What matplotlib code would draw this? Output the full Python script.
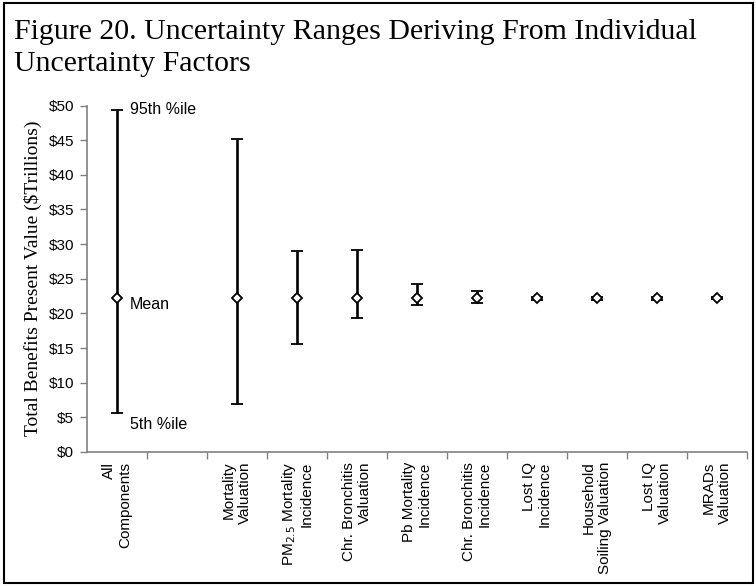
import matplotlib
matplotlib.use("Agg")
import matplotlib.pyplot as plt
from matplotlib.patches import Rectangle
import numpy as np

# data ($ trillions)
categories = [
    "All\nComponents",
    "",
    "Mortality\nValuation",
    "PM$_{2.5}$ Mortality\nIncidence",
    "Chr. Bronchitis\nValuation",
    "Pb Mortality\nIncidence",
    "Chr. Bronchitis\nIncidence",
    "Lost IQ\nIncidence",
    "Household\nSoiling Valuation",
    "Lost IQ\nValuation",
    "MRADs\nValuation",
]
mean_vals = [22.2, np.nan, 22.2, 22.2, 22.2, 22.2, 22.2, 22.2, 22.2, 22.2, 22.2]
low_vals = [5.6, np.nan, 6.9, 15.6, 19.4, 21.2, 21.5, 22.0, 22.0, 22.0, 22.1]
high_vals = [49.4, np.nan, 45.2, 29.0, 29.2, 24.3, 23.2, 22.4, 22.4, 22.4, 22.3]
yticks = [0, 5, 10, 15, 20, 25, 30, 35, 40, 45, 50]

fig = plt.figure(figsize=(7.56, 5.86), dpi=100)
ax = fig.add_axes([86.7 / 756, 1 - 452 / 586, (747 - 86.7) / 756, 346.5 / 586])

x = np.arange(len(categories))
mean_arr = np.array(mean_vals)
err = [mean_arr - np.array(low_vals), np.array(high_vals) - mean_arr]
ax.errorbar(x, mean_arr, yerr=err, fmt="D", color="black", ecolor="black",
            elinewidth=1.9, capsize=4.2, capthick=4, markersize=5,
            markerfacecolor="white", markeredgecolor="black", markeredgewidth=1.3)

ax.set_xlim(-0.5, len(categories) - 0.5)
ax.set_ylim(0, 50)
ax.set_yticks(yticks)
ax.set_yticklabels(["$%d" % v for v in yticks], fontsize=11, family="Liberation Sans")

ax.set_xticks(x)
ax.set_xticklabels(categories, rotation=90, fontsize=11, family="Liberation Sans",
                   ha="center", va="top", multialignment="right")
ax.tick_params(axis="x", which="major", length=0, pad=7)
ax.set_xticks(np.arange(0.5, len(categories)), minor=True)
ax.tick_params(axis="x", which="minor", length=5, color="#808080", width=1)
ax.tick_params(axis="y", length=5, color="#808080", width=1, pad=4)

for s in ["top", "right"]:
    ax.spines[s].set_visible(False)
for s in ["left", "bottom"]:
    ax.spines[s].set_color("#808080")
    ax.spines[s].set_linewidth(1.2)

ax.set_ylabel("Total Benefits Present Value ($Trillions)", family="Liberation Serif",
              fontsize=14, labelpad=5)

# annotations on the first bar
ax.text(0.22, 49.4, "95th %ile", fontsize=11.5, family="Liberation Sans", va="center")
ax.text(0.22, 21.3, "Mean", fontsize=11.5, family="Liberation Sans", va="center")
ax.text(0.22, 4.0, "5th %ile", fontsize=11.5, family="Liberation Sans", va="center")

fig.text(14 / 756, 1 - 19 / 586,
         "Figure 20. Uncertainty Ranges Deriving From Individual\nUncertainty Factors",
         family="Liberation Serif", fontsize=21.5, va="top", ha="left", linespacing=1.3)

fig.patches.append(Rectangle((4 / 756, 3 / 586), 749 / 756, 580 / 586,
                             transform=fig.transFigure, fill=False,
                             edgecolor="black", linewidth=1.5))

fig.savefig("out.png", dpi=100)
